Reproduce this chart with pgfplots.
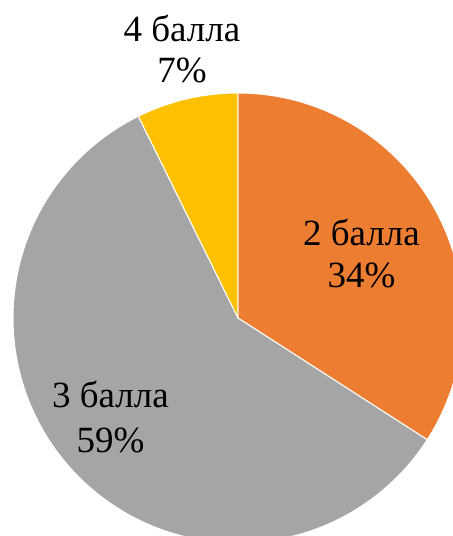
\documentclass[border=0pt]{standalone}
\usepackage{fontspec}
\setmainfont{Liberation Serif}
\usepackage{pgfplots}
\pgfplotsset{compat=1.18}
\definecolor{cOrange}{HTML}{ED7D31}
\definecolor{cGray}{HTML}{A5A5A5}
\definecolor{cYellow}{HTML}{FFC000}
\begin{document}
\begin{tikzpicture}
\begin{axis}[
  width=226.5pt, height=268pt, scale only axis,
  xmin=-1.0578, xmax=0.9556, ymin=-0.9689, ymax=1.4133,
  hide axis, clip=true, clip bounding box=upper bound,
  trig format plots=deg,
]
\path[draw=none] (rel axis cs:0,0) rectangle (rel axis cs:1,1);
% shares: 2 балла 34.1%, 3 балла 58.6%, 4 балла 7.3%
% 2 балла: 90 -> 90-122.76
\addplot[fill=cOrange, draw=white, line width=0.5pt, domain=90:-32.76, samples=121]
  ({cos(x)},{sin(x)}) -- (axis cs:0,0) -- cycle;
% 3 балла: -32.76 -> -243.72
\addplot[fill=cGray, draw=white, line width=0.5pt, domain=-32.76:-243.72, samples=201]
  ({cos(x)},{sin(x)}) -- (axis cs:0,0) -- cycle;
% 4 балла: -243.72 -> -270
\addplot[fill=cYellow, draw=white, line width=0.5pt, domain=-243.72:-270, samples=41]
  ({cos(x)},{sin(x)}) -- (axis cs:0,0) -- cycle;
\node[anchor=base, font=\fontsize{18.5pt}{20pt}\selectfont] at (axis cs:-0.2489,1.2267) {4 балла};
\node[anchor=base, font=\fontsize{18.5pt}{20pt}\selectfont] at (axis cs:-0.2489,1.0444) {7\%};
\node[anchor=base, font=\fontsize{18.5pt}{20pt}\selectfont] at (axis cs:0.5489,0.3244) {2 балла};
\node[anchor=base, font=\fontsize{18.5pt}{20pt}\selectfont] at (axis cs:0.5489,0.1333) {34\%};
\node[anchor=base, font=\fontsize{18.5pt}{20pt}\selectfont] at (axis cs:-0.5667,-0.4) {3 балла};
\node[anchor=base, font=\fontsize{18.5pt}{20pt}\selectfont] at (axis cs:-0.5667,-0.5956) {59\%};
\end{axis}
\end{tikzpicture}
\end{document}
